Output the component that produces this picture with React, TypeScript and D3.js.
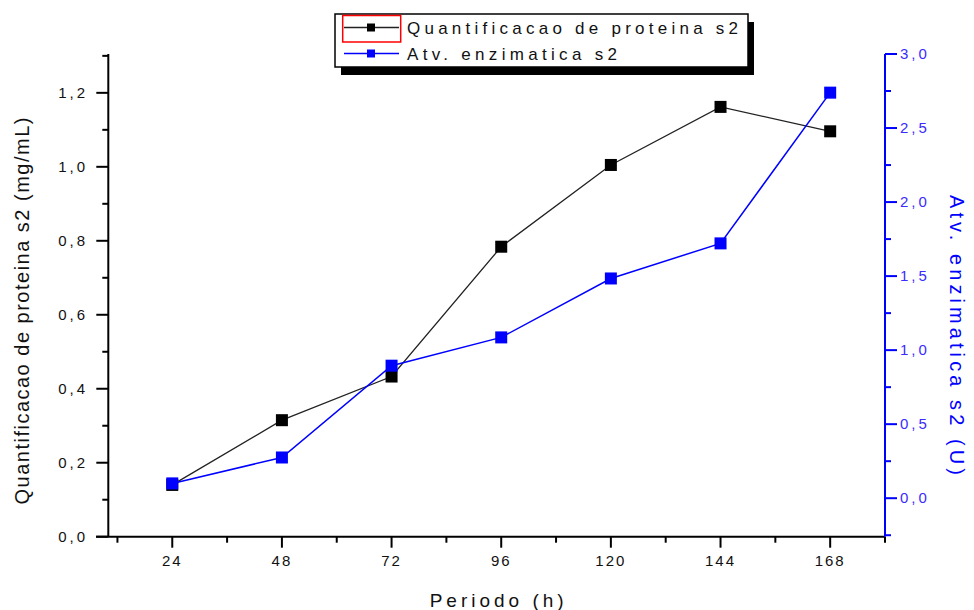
import React from "react";
import * as d3 from "d3";

const periods = [24, 48, 72, 96, 120, 144, 168];
const proteina = [0.14, 0.315, 0.433, 0.784, 1.005, 1.162, 1.096];
const atividade = [0.1, 0.275, 0.895, 1.086, 1.484, 1.721, 2.739];

const xMajor = [24, 48, 72, 96, 120, 144, 168];
const xMinor = [12, 36, 60, 84, 108, 132, 156, 180];
const leftMajor = [0, 0.2, 0.4, 0.6, 0.8, 1.0, 1.2];
const leftMinor = [0.1, 0.3, 0.5, 0.7, 0.9, 1.1, 1.3];
const rightMajor = [0, 0.5, 1.0, 1.5, 2.0, 2.5, 3.0];
const rightMinor = [-0.25, 0.25, 0.75, 1.25, 1.75, 2.25, 2.75];

const seriesNames = ["Quantificacao de proteina s2", "Atv. enzimatica s2"];
const xTitle = "Periodo (h)";
const leftTitle = "Quantificacao de proteina s2 (mg/mL)";
const rightTitle = "Atv. enzimatica s2 (U)";

const BLUE = "#0000ff";
const FONT = "'Liberation Sans', Arial, sans-serif";

export default function App() {
  const left = 108.3, right = 885, top = 54, bottom = 536.7;
  const x = d3.scaleLinear().domain([10, 180]).range([left, right]);
  const yL = d3.scaleLinear().domain([0, 1.305]).range([bottom, top]);
  const yR = d3.scaleLinear().domain([-0.26, 3.0]).range([bottom, top]);
  const fmt = (v: number) => d3.format(".1f")(v).replace(".", ",");

  const lineL = d3.line<number>().x((_, i) => x(periods[i])).y((d) => yL(d));
  const lineR = d3.line<number>().x((_, i) => x(periods[i])).y((d) => yR(d));
  const ms = 12;

  return (
    <svg
      width={974}
      height={610}
      style={{ position: "absolute", left: 0, top: 0, display: "block", background: "#fff" }}
      fontFamily={FONT}
    >
      <rect x={0} y={0} width={974} height={610} fill="#fff" />

      {/* x axis */}
      <line x1={96} x2={right} y1={bottom} y2={bottom} stroke="#000" strokeWidth={2} />
      {xMajor.map((t) => (
        <g key={"xM" + t}>
          <line x1={x(t)} x2={x(t)} y1={bottom} y2={bottom + 11} stroke="#000" strokeWidth={2} />
          <text x={x(t)} y={566} textAnchor="middle" fontSize={15} letterSpacing={2} fill="#111">
            {t}
          </text>
        </g>
      ))}
      {xMinor.map((t) => (
        <line key={"xm" + t} x1={x(t)} x2={x(t)} y1={bottom} y2={bottom + 6} stroke="#000" strokeWidth={2} />
      ))}
      <text x={(left + right) / 2} y={607} textAnchor="middle" fontSize={19} textLength={134} lengthAdjust="spacing" fill="#111">
        {xTitle}
      </text>

      {/* left axis */}
      <line x1={left} x2={left} y1={top} y2={bottom} stroke="#000" strokeWidth={2} />
      {leftMajor.map((t) => (
        <g key={"lM" + t}>
          <line x1={left - 12} x2={left} y1={yL(t)} y2={yL(t)} stroke="#000" strokeWidth={2} />
          <text x={88} y={yL(t) + 5} textAnchor="end" fontSize={15} letterSpacing={3} fill="#111">
            {fmt(t)}
          </text>
        </g>
      ))}
      {leftMinor.map((t) => (
        <line key={"lm" + t} x1={left - 6} x2={left} y1={yL(t)} y2={yL(t)} stroke="#000" strokeWidth={2} />
      ))}
      <text
        transform={`translate(29, 311) rotate(-90)`}
        textAnchor="middle"
        fontSize={20}
        textLength={387}
        lengthAdjust="spacing"
        fill="#111"
      >
        {leftTitle}
      </text>

      {/* right axis */}
      <line x1={right} x2={right} y1={top} y2={bottom} stroke={BLUE} strokeWidth={2} />
      {rightMajor.map((t) => (
        <g key={"rM" + t}>
          <line x1={right} x2={right + 12} y1={yR(t)} y2={yR(t)} stroke={BLUE} strokeWidth={2} />
          <text x={900} y={yR(t) + 5} fontSize={15} letterSpacing={3} fill="#3a2bff">
            {fmt(t)}
          </text>
        </g>
      ))}
      {rightMinor.map((t) => (
        <line key={"rm" + t} x1={right} x2={right + 6} y1={yR(t)} y2={yR(t)} stroke={BLUE} strokeWidth={2} />
      ))}
      <text
        transform={`translate(950, 335) rotate(90)`}
        textAnchor="middle"
        fontSize={20}
        textLength={280}
        lengthAdjust="spacing"
        fill={BLUE}
      >
        {rightTitle}
      </text>

      {/* series */}
      <path d={lineL(proteina) || ""} fill="none" stroke="#222" strokeWidth={1.3} />
      {proteina.map((v, i) => (
        <rect key={"p" + i} x={x(periods[i]) - ms / 2} y={yL(v) - ms / 2} width={ms} height={ms} fill="#000" />
      ))}
      <path d={lineR(atividade) || ""} fill="none" stroke={BLUE} strokeWidth={1.5} />
      {atividade.map((v, i) => (
        <rect key={"a" + i} x={x(periods[i]) - ms / 2} y={yR(v) - ms / 2} width={ms} height={ms} fill={BLUE} />
      ))}

      {/* legend */}
      <rect x={341} y={22} width={413} height={53} fill="#000" />
      <rect x={335} y={14} width={413} height={53} fill="#fff" stroke="#000" strokeWidth={1.5} />
      <rect x={342.7} y={15.5} width={58} height={26.5} fill="none" stroke="#ff0000" strokeWidth={1.5} />
      <line x1={344} x2={399} y1={27.5} y2={27.5} stroke="#222" strokeWidth={1.3} />
      <rect x={367} y={23.5} width={8} height={8} fill="#000" />
      <text x={407} y={34} fontSize={17} textLength={331} lengthAdjust="spacing" fill="#111">
        {seriesNames[0]}
      </text>
      <line x1={344} x2={399} y1={53.5} y2={53.5} stroke={BLUE} strokeWidth={1.5} />
      <rect x={367} y={49.5} width={8} height={8} fill={BLUE} />
      <text x={407} y={60} fontSize={17} textLength={210} lengthAdjust="spacing" fill="#111">
        {seriesNames[1]}
      </text>
    </svg>
  );
}
